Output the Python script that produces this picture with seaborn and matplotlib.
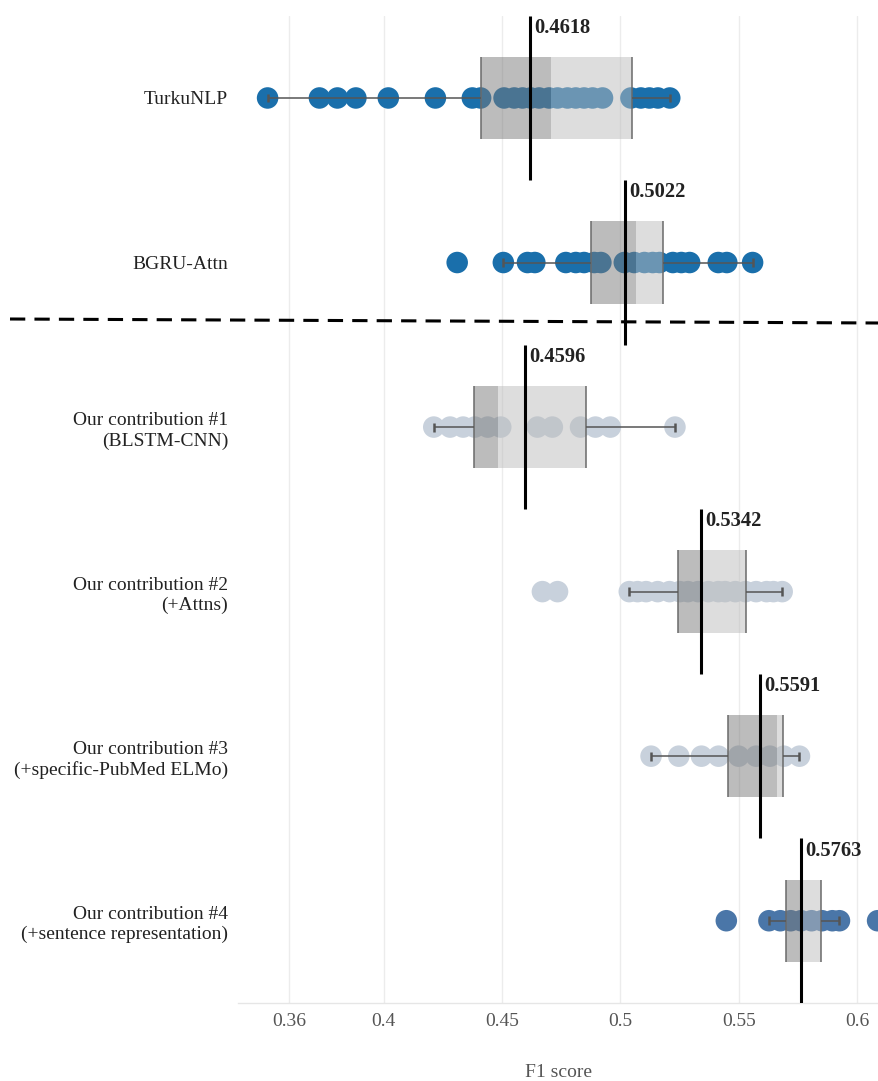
import numpy as np
import pandas as pd
import matplotlib
matplotlib.use("Agg")
import matplotlib.pyplot as plt
from matplotlib.lines import Line2D
import seaborn as sns

# ---- data -------------------------------------------------------------
models = [
    "TurkuNLP",
    "BGRU-Attn",
    "Our contribution #1\n(BLSTM-CNN)",
    "Our contribution #2\n(+Attns)",
    "Our contribution #3\n(+specific-PubMed ELMo)",
    "Our contribution #4\n(+sentence representation)",
]

turku_runs = [0.3510, 0.3729, 0.3805, 0.3883, 0.4020, 0.4219, 0.4375, 0.4410,
              0.4509, 0.4552, 0.4587, 0.4622, 0.4657, 0.4699, 0.4735, 0.4777,
              0.4812, 0.4847, 0.4883, 0.4925, 0.5045, 0.5087, 0.5123, 0.5159,
              0.5209]
bgru_runs = [0.4311, 0.4506, 0.4608, 0.4639, 0.4770, 0.4812, 0.4847, 0.4890,
             0.4918, 0.5017, 0.5059, 0.5102, 0.5137, 0.5166, 0.5222, 0.5258,
             0.5293, 0.5414, 0.5450, 0.5559]
contrib1_runs = [0.4212, 0.4281, 0.4336, 0.4385, 0.4440, 0.4495, 0.4650,
                 0.4713, 0.4832, 0.4895, 0.4958, 0.5231]
contrib2_runs = [0.4671, 0.4735, 0.5038, 0.5073, 0.5109, 0.5158, 0.5208,
                 0.5251, 0.5286, 0.5329, 0.5372, 0.5414, 0.5443, 0.5486,
                 0.5529, 0.5574, 0.5618, 0.5647, 0.5684]
contrib3_runs = [0.5130, 0.5247, 0.5343, 0.5415, 0.5500, 0.5574, 0.5632,
                 0.5691, 0.5757]
contrib4_runs = [0.5448, 0.5628, 0.5676, 0.5720, 0.5764, 0.5808, 0.5852,
                 0.5896, 0.5926, 0.6087]

runs = [turku_runs, bgru_runs, contrib1_runs, contrib2_runs,
        contrib3_runs, contrib4_runs]

# box statistics (first quartile, median, third quartile)
box_q1 = [0.4410, 0.4875, 0.4383, 0.5243, 0.5457, 0.5698]
box_med = [0.4706, 0.5066, 0.4483, 0.5342, 0.5664, 0.5766]
box_q3 = [0.5049, 0.5180, 0.4857, 0.5531, 0.5686, 0.5849]

# reported F1 score of each system
reported = [0.4618, 0.5022, 0.4596, 0.5342, 0.5591, 0.5763]

x_ticks = [0.36, 0.4, 0.45, 0.5, 0.55, 0.6]
x_tick_labels = ["0.36", "0.4", "0.45", "0.5", "0.55", "0.6"]

dot_colors = ["#1a6fab", "#1a6fab", "#c8d1dc", "#c8d1dc", "#c8d1dc", "#4a76a8"]

df = pd.DataFrame({
    "model": [m for m, r in zip(models, runs) for _ in r],
    "f1": [v for r in runs for v in r],
})

# ---- style ------------------------------------------------------------
sns.set_theme(style="white")
plt.rcParams["font.family"] = ["Liberation Serif", "DejaVu Serif"]

fig = plt.figure(figsize=(8.79, 10.81), dpi=100)
ax = fig.add_axes([238 / 879, 1 - 1003 / 1081, 1 - 238 / 879, (1003 - 15.7) / 1081])

# individual runs
sns.stripplot(data=df, x="f1", y="model", hue="model", order=models,
              hue_order=models, palette=dict(zip(models, dot_colors)),
              jitter=False, size=15.5, linewidth=0, legend=False,
              ax=ax, zorder=2)

pos = np.arange(len(models))
q1 = np.array(box_q1)
med = np.array(box_med)
q3 = np.array(box_q3)

# two-tone boxes
ax.barh(pos, med - q1, left=q1, height=0.5, color=(122 / 255,) * 3,
        alpha=0.5, linewidth=0, zorder=3)
ax.barh(pos, q3 - med, left=med, height=0.5, color=(188 / 255,) * 3,
        alpha=0.5, linewidth=0, zorder=3)
ax.vlines(q1, pos - 0.25, pos + 0.25, color="#6a6a6a", lw=1.1, zorder=4)
ax.vlines(q3, pos - 0.25, pos + 0.25, color="#6a6a6a", lw=1.1, zorder=4)

# whiskers at 1.5 IQR
for i, r in enumerate(runs):
    r = np.asarray(r)
    iqr = q3[i] - q1[i]
    lo = r[r >= q1[i] - 1.5 * iqr].min()
    hi = r[r <= q3[i] + 1.5 * iqr].max()
    ax.hlines(i, lo, q1[i], color="#555555", lw=1.1, zorder=4)
    ax.hlines(i, q3[i], hi, color="#555555", lw=1.1, zorder=4)
    ax.vlines([lo, hi], i - 0.027, i + 0.027, color="#555555", lw=1.8, zorder=4)

# reported scores
ax.vlines(reported, pos - 0.5, pos + 0.5, color="black", lw=2.2, zorder=6)
for i, s in enumerate(reported):
    ax.annotate(f"{s:.4f}", xy=(s, i - 0.5), xytext=(3, -1.5),
                textcoords="offset points", ha="left", va="top",
                fontsize=14.8, fontweight="bold", color="#222222", zorder=7)

# axes
ax.set_xlim(0.3385, 0.6093)
ax.set_ylim(len(models) - 0.5, -0.5)
ax.set_xticks(x_ticks)
ax.set_xticklabels(x_tick_labels)
ax.tick_params(axis="x", length=0, pad=7, labelsize=14, labelcolor="#555555")
ax.tick_params(axis="y", length=0, pad=7, labelsize=14, labelcolor="#222222")
for lbl in ax.get_yticklabels():
    lbl.set_linespacing(1.25)
ax.grid(axis="x", color="#ececec", lw=1)
ax.grid(axis="y", visible=False)
ax.set_axisbelow(True)
for side in ["left", "top", "right"]:
    ax.spines[side].set_visible(False)
ax.spines["bottom"].set_color("#e6e6e6")
ax.spines["bottom"].set_linewidth(1)
ax.set_ylabel("")
ax.set_xlabel("F1 score", fontsize=14, color="#555555", labelpad=25)

# separator between baselines and our systems
fig.add_artist(Line2D([10 / 879, 1.0], [1 - 319 / 1081, 1 - 323 / 1081],
                      transform=fig.transFigure, color="black", lw=2.2,
                      linestyle=(0, (5.0, 3.0))))

fig.savefig("out.png", dpi=100)
